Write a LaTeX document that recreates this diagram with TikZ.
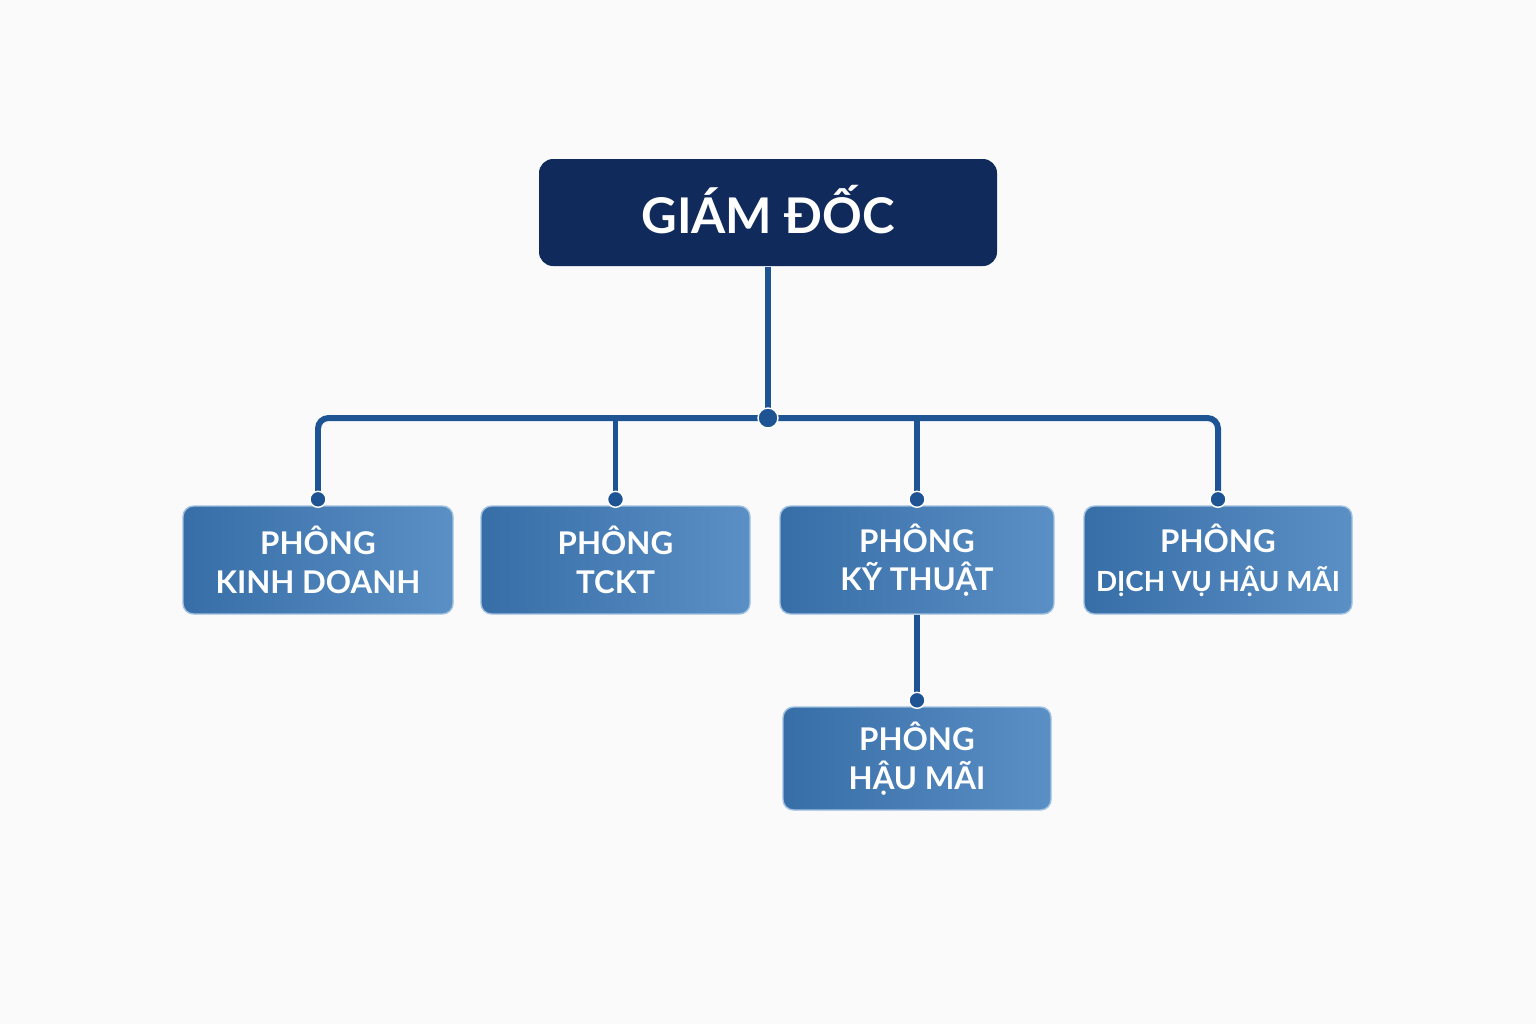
\documentclass[tikz,border=0pt]{standalone}
\usepackage{fontspec}
\setmainfont{Lato}
\usepackage{xcolor}
\usepackage{tikz}

\definecolor{navydark}{RGB}{16,42,92}
\definecolor{navymid}{RGB}{46,82,152}
\definecolor{deptdark}{RGB}{56,110,167}
\definecolor{deptlight}{RGB}{98,152,204}
\definecolor{linkblue}{RGB}{30,84,148}
\definecolor{pagebg}{RGB}{250,250,251}

\pgfdeclarelayer{bg}
\pgfdeclarelayer{edges}
\pgfsetlayers{bg,edges,main}

\begin{document}
\begin{tikzpicture}[
  head/.style = {rectangle, rounded corners=4pt,
                 minimum width=4.58cm, minimum height=1.07cm,
                 left color=navydark, middle color=navymid, right color=navydark,
                 text=white, font=\bfseries\fontsize{14}{17}\selectfont},
  dept/.style = {rectangle, rounded corners=3pt,
                 minimum width=2.70cm, minimum height=1.08cm, inner xsep=2pt,
                 left color=deptdark, middle color=deptlight, right color=deptlight!80!deptdark,
                 draw=deptlight!60!white, line width=0.4pt,
                 text=white, align=center,
                 font=\bfseries\fontsize{8.9}{11}\selectfont},
  link/.style = {draw=linkblue, line width=1.7pt},
]

% page
\begin{pgfonlayer}{bg}
  \fill[pagebg] (0,0) rectangle (15.36,-10.24);
\end{pgfonlayer}
\useasboundingbox (0,0) rectangle (15.36,-10.24);

% boxes
\node[head] (gd) at (7.68,-2.125) {\raisebox{1.5pt}{GIÁM ĐỐC}};
\node[dept] (kd)   at (3.18,-5.60)  {PHÔNG\\KINH DOANH};
\node[dept, minimum width=2.69cm] (tckt) at (6.155,-5.60) {PHÔNG\\TCKT};
\node[dept, minimum width=2.74cm] (kt)   at (9.17,-5.60)  {PHÔNG\\KỸ THUẬT};
\node[dept, minimum width=2.68cm] (dvhm) at (12.18,-5.60)
  {PHÔNG\\{\fontsize{7.9}{11}\selectfont DỊCH VỤ HẬU MÃI}};
\node[dept, minimum width=2.68cm, minimum height=1.03cm] (hm) at (9.17,-7.585) {PHÔNG\\HẬU MÃI};

\coordinate (hub) at (7.68,-4.18);

% connectors
\begin{pgfonlayer}{edges}
  \draw[link] (gd) -- (hub);
  \draw[link, rounded corners=3pt] (kd.north) |- (hub) -| (dvhm.north);
  \draw[link] (tckt.north) -- (tckt.north |- hub);
  \draw[link] (kt.north) -- (kt.north |- hub);
  \draw[link] (kt.south) -- (hm.north);
\end{pgfonlayer}

% joints
\filldraw[fill=linkblue, draw=white, line width=0.4pt] (hub) circle (0.10);
\foreach \n in {kd, tckt, kt, dvhm, hm}
  \filldraw[fill=linkblue, draw=white, line width=0.4pt] (\n.north) ++(0,0.06) circle (0.08);

\end{tikzpicture}
\end{document}
